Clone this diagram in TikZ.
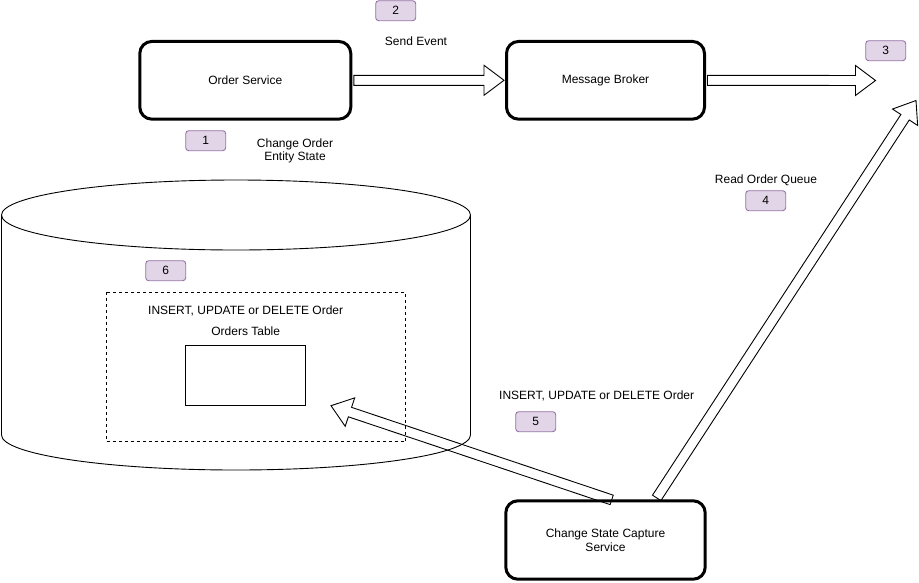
\documentclass[tikz,border=0pt]{standalone}
\usepackage{fontspec}
\setmainfont{Liberation Sans}
\usetikzlibrary{calc}
\definecolor{badgefill}{HTML}{E1D5E7}
\definecolor{badgeline}{HTML}{9673A6}
\newcommand{\flexarr}[2]{%
  \coordinate (fxH) at ($(#2)!20pt!(#1)$);
  \draw[flexline] ($(#1)!5pt!90:(#2)$) -- ($(fxH)!5pt!90:(#2)$) -- ($(fxH)!15pt!90:(#2)$) -- (#2) -- ($(fxH)!15pt!-90:(#2)$) -- ($(fxH)!5pt!-90:(#2)$) -- ($(#1)!5pt!-90:(#2)$) -- cycle;}
\tikzset{
  svc/.style={draw=black, line width=3pt, rounded corners=12pt, fill=white, inner sep=0pt, align=center},
  badge/.style={draw=badgeline, fill=badgefill, line width=0.9pt, rounded corners=3pt, minimum width=40pt, minimum height=20pt, inner sep=0pt},
  lbl/.style={inner sep=0pt, align=center},
  flexline/.style={draw=black, line width=0.9pt, line join=miter},
  thinline/.style={draw=black, line width=0.9pt}
}
\begin{document}
\begin{tikzpicture}[x=1pt,y=-1pt, font=\fontsize{12}{13.5}\selectfont]
\useasboundingbox (0,0) rectangle (919,582);
% database cylinder
\draw[thinline, fill=white] (1.5,215) -- (1.5,435) arc[start angle=180,end angle=360,x radius=234.5pt,y radius=35pt] -- (470.5,215);
\draw[thinline] (236,215) ellipse[x radius=234.5pt,y radius=35pt];
\draw[thinline, dash pattern=on 3pt off 3pt] (106,292.3) rectangle (405.7,441.7);
\draw[thinline] (185.5,345.5) rectangle (305.5,405.5);
\node[lbl] (ins6) at (245.7,311) {INSERT, UPDATE or DELETE Order};
\node[lbl] (otab) at (245.7,331) {Orders Table};
% services
\node[svc, minimum width=211pt, minimum height=77.7pt] (os) at (245.3,80.3) {Order Service};
\node[svc, minimum width=198pt, minimum height=77.7pt] (mb) at (605.5,80.3) {Message Broker};
\node[svc, minimum width=199.4pt, minimum height=78.4pt] (csc) at (605.5,540) {Change State Capture\\Service};
% badges
\node[badge] (b1) at (205.7,140.7) {1};
\node[badge] (b2) at (395.7,10.7) {2};
\node[badge] (b3) at (885.7,50.7) {3};
\node[badge] (b4) at (765.7,200.7) {4};
\node[badge] (b5) at (535.7,421.7) {5};
\node[badge] (b6) at (165.7,270.7) {6};
% labels
\node[lbl] (lsend) at (416,41.5) {Send Event};
\node[lbl] (lchg) at (295,150.7) {Change Order\\Entity State};
\node[lbl] (lread) at (766,180.7) {Read Order Queue};
\node[lbl] (lins5) at (596.7,396) {INSERT, UPDATE or DELETE Order};
% arrow endpoints
\coordinate (s1) at ([xshift=1.5pt]os.east);
\coordinate (t1) at ([xshift=-1pt]mb.west);
\coordinate (s2) at ([xshift=1.5pt]mb.east);
\coordinate (t2) at (875.5,80.5);
\coordinate (s3) at ([xshift=51.2pt,yshift=1.4pt]csc.north);
\coordinate (t3) at (916,100.5);
\coordinate (s4) at ([xshift=6.2pt,yshift=-0.6pt]csc.north);
\coordinate (t4) at (331,405.7);
\flexarr{s1}{t1}
\flexarr{s2}{t2}
\flexarr{s3}{t3}
\flexarr{s4}{t4}
\end{tikzpicture}
\end{document}
